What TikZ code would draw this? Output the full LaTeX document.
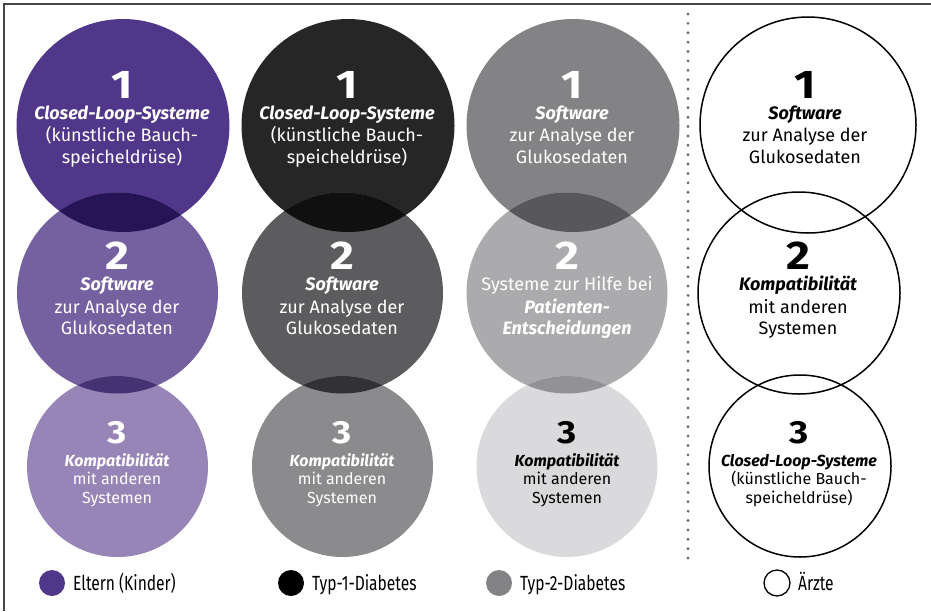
\documentclass[tikz,border=0pt]{standalone}
\usepackage{fontspec}
\setmainfont{Fira Sans}
\newfontfamily\digfont[FakeStretch=1.15]{Fira Sans}
\newfontfamily\legfont[FakeStretch=0.76]{Fira Sans}
\definecolor{Pa}{RGB}{80,55,137}
\definecolor{Pb}{RGB}{117,96,160}
\definecolor{Pc}{RGB}{151,133,183}
\definecolor{Pab}{RGB}{37,21,86}
\definecolor{Pbc}{RGB}{69,50,115}
\definecolor{Ka}{RGB}{38,38,38}
\definecolor{Kb}{RGB}{92,92,94}
\definecolor{Kc}{RGB}{139,139,141}
\definecolor{Kab}{RGB}{16,16,16}
\definecolor{Kbc}{RGB}{50,50,52}
\definecolor{Ga}{RGB}{131,131,133}
\definecolor{Gb}{RGB}{171,171,173}
\definecolor{Gc}{RGB}{218,218,220}
\definecolor{Gab}{RGB}{88,88,90}
\definecolor{Gbc}{RGB}{146,146,148}
\definecolor{framec}{RGB}{70,70,70}
\definecolor{dotc}{RGB}{110,110,110}
\newcommand\bfit[1]{{\bfseries\itshape #1}}
\tikzset{
  txtL/.style={anchor=base, inner sep=0pt, font=\fontsize{18}{21}\selectfont},
  txtS/.style={anchor=base, inner sep=0pt, font=\fontsize{16}{19}\selectfont},
  digL/.style={anchor=base, inner sep=0pt, font=\digfont\bfseries\fontsize{40}{40}\selectfont},
  digS/.style={anchor=base, inner sep=0pt, font=\digfont\bfseries\fontsize{32}{32}\selectfont},
  legtxt/.style={anchor=base west, inner sep=0pt, font=\legfont\fontsize{20.5}{22}\selectfont},
  ring/.style={draw=black, line width=1.5pt},
}
% #1 name, #2 x, #3 digit baseline, #4 colour, #5 digit, #6-#8 lines
\newcommand\blkL[8]{%
  \node[digL,text=#4] (#1d) at (#2,#3) {#5};
  \node[txtL,text=#4] (#1a) at (#2,#3+21) {#6};
  \node[txtL,text=#4] (#1b) at (#2,#3+43.5) {#7};
  \node[txtL,text=#4] (#1c) at (#2,#3+65) {#8};
}
\newcommand\blkS[8]{%
  \node[digS,text=#4] (#1d) at (#2,#3) {#5};
  \node[txtS,text=#4] (#1a) at (#2,#3+22.5) {#6};
  \node[txtS,text=#4] (#1b) at (#2,#3+41) {#7};
  \node[txtS,text=#4] (#1c) at (#2,#3+59.5) {#8};
}
% three stacked discs with multiply-like overlaps
\newcommand\stack[7]{%
  \fill[#3] (#1,125.5) circle (106.5);
  \fill[#4] (#2,293) circle (100.5);
  \begin{scope}
    \clip (#1,125.5) circle (106.5);
    \fill[#6] (#2,293) circle (100.5);
  \end{scope}
  \fill[#5] (#2,466.5) circle (90.5);
  \begin{scope}
    \clip (#2,293) circle (100.5);
    \fill[#7] (#2,466.5) circle (90.5);
  \end{scope}
}
\begin{document}
\begin{tikzpicture}[x=1pt,y=-1pt]
\useasboundingbox (0,0) rectangle (931,611);
\fill[white] (0,0) rectangle (931,611);
\draw[framec, line width=1.2pt] (4,611) -- (4,4) -- (931,4);

% column 1: Eltern (Kinder)
\stack{123}{117.5}{Pa}{Pb}{Pc}{Pab}{Pbc}
\blkL{pa}{122}{98}{white}{1}{\bfit{Closed-Loop-Systeme}}{(künstliche Bauch-}{speicheldrüse)}
\blkL{pb}{117}{269.5}{white}{2}{\bfit{Software}}{zur Analyse der}{Glukosedaten}
\blkS{pc}{117}{443.5}{white}{3}{\bfit{Kompatibilität}}{mit anderen}{Systemen}

% column 2: Typ-1-Diabetes
\stack{348}{342.5}{Ka}{Kb}{Kc}{Kab}{Kbc}
\blkL{ka}{347}{98}{white}{1}{\bfit{Closed-Loop-Systeme}}{(künstliche Bauch-}{speicheldrüse)}
\blkL{kb}{342}{269.5}{white}{2}{\bfit{Software}}{zur Analyse der}{Glukosedaten}
\blkS{kc}{342}{443.5}{white}{3}{\bfit{Kompatibilität}}{mit anderen}{Systemen}

% column 3: Typ-2-Diabetes
\stack{573}{567}{Ga}{Gb}{Gc}{Gab}{Gbc}
\blkL{ga}{572}{98}{white}{1}{\bfit{Software}}{zur Analyse der}{Glukosedaten}
\blkL{gb}{567}{269.5}{white}{2}{Systeme zur Hilfe bei}{\bfit{Patienten-}}{\bfit{Entscheidungen}}
\blkS{gc}{567}{443.5}{black}{3}{\bfit{Kompatibilität}}{mit anderen}{Systemen}

% dotted divider
\foreach \i in {0,...,58} \fill[dotc] (688,14+\i*9.38) circle (1.6);

% column 4: Ärzte
\draw[ring] (808,125) circle (108);
\draw[ring] (799,293) circle (101);
\draw[ring] (800,466) circle (91);
\blkL{aa}{805}{98}{black}{1}{\bfit{Software}}{zur Analyse der}{Glukosedaten}
\blkL{ab}{798}{269.5}{black}{2}{\bfit{Kompatibilität}}{mit anderen}{Systemen}
\blkS{ac}{799}{443.5}{black}{3}{\bfit{Closed-Loop-Systeme}}{(künstliche Bauch-}{speicheldrüse)}

% legend
\fill[Pa] (52,583) circle (13);
\node[legtxt] (l1) at (73,590) {Eltern (Kinder)};
\fill[black] (291,583) circle (13);
\node[legtxt] (l2) at (312,590) {Typ-1-Diabetes};
\fill[Ga] (499,583) circle (13);
\node[legtxt] (l3) at (520,590) {Typ-2-Diabetes};
\draw[black, line width=1.3pt] (777,583) circle (13);
\node[legtxt] (l4) at (798,590) {Ärzte};
\end{tikzpicture}
\end{document}
